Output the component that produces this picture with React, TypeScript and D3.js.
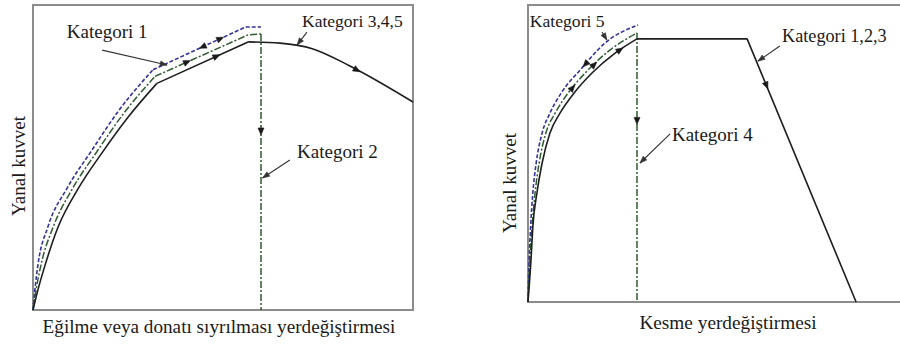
import React from "react";
import * as d3 from "d3";

type Pt = [number, number];

// ---------- Flexure / bar-slip panel (relative units, 0–100) ----------
const flexKat345Rise: Pt[] = [
  [0, 0], [1.3, 6.6], [3.2, 14.8], [6.6, 27.2], [11.8, 39.6], [18.2, 51.6],
  [25, 63.2], [32.6, 74.3],
];
const flexKat345Peak: Pt[] = [[32.6, 74.3], [56.6, 87.9]];
const flexKat345Tail: Pt[] = [[56.6, 87.9], [65, 87.5], [73.7, 85.6], [83.4, 80], [100, 68.2]];

const flexKat2Rise: Pt[] = [
  [0, 0], [0.8, 6.6], [2.1, 14.8], [5.3, 27.2], [10.3, 39.6], [16.8, 51.9],
  [23.7, 64.2], [32.1, 76.6],
];
const flexKat2Top: Pt[] = [[32.1, 76.6], [56.6, 90.2], [60, 90.5]];
const flexKat2Drop: Pt[] = [[60, 90.5], [60, 0]];

const flexKat1Rise: Pt[] = [
  [0, 0], [0.5, 6.6], [1.3, 14.8], [3.9, 27.2], [8.9, 39.8], [15.5, 52.4],
  [22.4, 65.1], [31.6, 78.8],
];
const flexKat1Top: Pt[] = [[31.6, 78.8], [56, 92.8], [60, 92.8]];

// ---------- Shear panel (relative units, 0–100) ----------
const shearKat123Rise: Pt[] = [
  [0, 0], [0.8, 14.1], [1.3, 25.3], [2.4, 36.7], [3.8, 46.8], [5.9, 56.9],
  [8.6, 63.6], [12.4, 70.4], [17.2, 77.1], [23.4, 83.8], [29.3, 88.6],
];
const shearKat123Tail: Pt[] = [[29.3, 88.6], [58.9, 88.6], [88.2, 0]];
const shearKat4Rise: Pt[] = [
  [0, 0], [0.5, 14.1], [1.1, 25.3], [1.9, 36.7], [3, 46.8], [4.8, 56.9],
  [7.3, 63.6], [10.8, 70.4], [15.6, 77.4], [22, 84.8], [29.3, 90.6],
];
const shearKat4Drop: Pt[] = [[29.3, 90.6], [29.3, 0]];
const shearKat5: Pt[] = [
  [0, 0], [0.3, 14.1], [0.7, 25.3], [1.3, 36.7], [2.2, 46.8], [3.8, 56.9],
  [5.9, 63.6], [9.1, 70.7], [14, 78.1], [20.7, 87.2], [29.6, 93.3],
];

// Direction arrows along curves: segment index, position within segment, direction
type ArrowSpec = { pts: Pt[]; seg: number; t: number; dir: 1 | -1 };
const flexArrows: ArrowSpec[] = [
  { pts: flexKat345Peak, seg: 0, t: 0.69, dir: 1 },
  { pts: flexKat345Tail, seg: 3, t: 0.16, dir: 1 },
  { pts: flexKat2Top, seg: 0, t: 0.38, dir: 1 },
  { pts: flexKat2Drop, seg: 0, t: 0.366, dir: 1 },
  { pts: flexKat1Top, seg: 0, t: 0.76, dir: 1 },
  { pts: flexKat1Top, seg: 0, t: 0.5, dir: -1 },
];
const shearArrows: ArrowSpec[] = [
  { pts: shearKat123Rise, seg: 9, t: 0.36, dir: 1 },
  { pts: shearKat123Tail, seg: 1, t: 0.19, dir: 1 },
  { pts: shearKat4Drop, seg: 0, t: 0.34, dir: 1 },
  { pts: shearKat4Rise, seg: 8, t: 0.45, dir: 1 },
  { pts: shearKat4Rise, seg: 7, t: 0.37, dir: 1 },
  { pts: shearKat5, seg: 8, t: 0.12, dir: -1 },
];

// Category callouts: text anchor and leader line (from -> to)
type Callout = { text: string; at: Pt; from: Pt; to: Pt; size: number };
const flexCallouts: Callout[] = [
  { text: "Kategori 1", at: [8.9, 89.2], from: [18.2, 85.2], to: [35.3, 80.3], size: 19 },
  { text: "Kategori 2", at: [69.5, 49.8], from: [67.6, 49.2], to: [60.4, 43.3], size: 19 },
  { text: "Kategori 3,4,5", at: [70.8, 92.8], from: [72.1, 91.1], to: [69.5, 86.9], size: 17.5 },
];
const shearCallouts: Callout[] = [
  { text: "Kategori 5", at: [0.5, 92.6], from: [19.9, 90.9], to: [21.2, 88.2], size: 17.6 },
  { text: "Kategori 1,2,3", at: [68.3, 87.5], from: [67.7, 86.2], to: [61.8, 81.1], size: 18.2 },
  { text: "Kategori 4", at: [38.7, 54.2], from: [38.2, 56.6], to: [30.1, 46.8], size: 19 },
];

const yLabel = "Yanal kuvvet";
const flexXLabel = "Eğilme veya donatı sıyrılması yerdeğiştirmesi";
const shearXLabel = "Kesme yerdeğiştirmesi";

const FONT = "Liberation Serif, DejaVu Serif, serif";
const TEXT = "#1a1a1a";
const BLACK = "#1e1e1e";
const BLUE = "#34339c";
const GREEN = "#2f5b2f";
const FRAME = "#8c8c8c";

type Scale = d3.ScaleLinear<number, number>;
type CurveSpec = { pts: Pt[]; smooth: boolean; color: string; dash?: string; width: number };

function arrowHead(
  key: string,
  x: number,
  y: number,
  angle: number,
  color: string,
  len = 7,
  half = 3
) {
  const c = Math.cos(angle), s = Math.sin(angle);
  const bx = x - c * len, by = y - s * len;
  const p = `M${x},${y} L${bx - s * half},${by + c * half} L${bx + s * half},${by - c * half} Z`;
  return <path key={key} d={p} fill={color} stroke={color} strokeWidth={0.6} />;
}

function Panel({
  xs,
  ys,
  curves,
  arrows,
  callouts,
  xLabel,
  xLabelSize,
  xLabelX,
  xLabelY,
  yLabelX,
  yLabelY,
  closed,
}: {
  xs: Scale;
  ys: Scale;
  curves: CurveSpec[];
  arrows: ArrowSpec[];
  callouts: Callout[];
  xLabel: string;
  xLabelSize: number;
  xLabelX: number;
  xLabelY: number;
  yLabelX: number;
  yLabelY: number;
  closed: boolean;
}) {
  const [x0, x1] = xs.range();
  const [yb, yt] = ys.range();
  const smoothLine = d3
    .line<Pt>()
    .x((d) => xs(d[0]))
    .y((d) => ys(d[1]))
    .curve(d3.curveMonotoneX);
  const straightLine = d3
    .line<Pt>()
    .x((d) => xs(d[0]))
    .y((d) => ys(d[1]));

  const frame = closed
    ? `M${x0},${yt} H${x1} V${yb} H${x0} Z`
    : `M${x1},${yt} H${x0} V${yb} H${x1}`;

  return (
    <g>
      <path d={frame} fill="none" stroke={FRAME} strokeWidth={2} />
      {curves.map((cv, i) => (
        <path
          key={i}
          d={(cv.smooth ? smoothLine : straightLine)(cv.pts) || ""}
          fill="none"
          stroke={cv.color}
          strokeWidth={cv.width}
          strokeDasharray={cv.dash}
          strokeLinejoin="round"
        />
      ))}
      {arrows.map((a, i) => {
        const p = a.pts[a.seg], q = a.pts[a.seg + 1];
        const px = xs(p[0]) + (xs(q[0]) - xs(p[0])) * a.t;
        const py = ys(p[1]) + (ys(q[1]) - ys(p[1])) * a.t;
        let ang = Math.atan2(ys(q[1]) - ys(p[1]), xs(q[0]) - xs(p[0]));
        if (a.dir < 0) ang += Math.PI;
        return arrowHead(`a${i}`, px, py, ang, "#1a1a1a");
      })}
      {callouts.map((c, i) => {
        const fx = xs(c.from[0]), fy = ys(c.from[1]);
        const tx = xs(c.to[0]), ty = ys(c.to[1]);
        const ang = Math.atan2(ty - fy, tx - fx);
        return (
          <g key={`c${i}`}>
            <line x1={fx} y1={fy} x2={tx} y2={ty} stroke="#333" strokeWidth={1.1} />
            {arrowHead(`h${i}`, tx, ty, ang, "#333", 7, 2.6)}
            <text
              x={xs(c.at[0])}
              y={ys(c.at[1])}
              style={{ fontFamily: FONT }}
              fontSize={c.size}
              fill={TEXT}
            >
              {c.text}
            </text>
          </g>
        );
      })}
      <text
        x={xLabelX}
        y={xLabelY}
        textAnchor="middle"
        style={{ fontFamily: FONT }}
        fontSize={xLabelSize}
        fill={TEXT}
      >
        {xLabel}
      </text>
      <text
        transform={`translate(${yLabelX},${yLabelY}) rotate(-90)`}
        textAnchor="middle"
        style={{ fontFamily: FONT }}
        fontSize={19}
        fill={TEXT}
      >
        {yLabel}
      </text>
    </g>
  );
}

export default function App() {
  const flexX = d3.scaleLinear().domain([0, 100]).range([33, 413]);
  const flexY = d3.scaleLinear().domain([0, 100]).range([310, 5]);
  const shearX = d3.scaleLinear().domain([0, 100]).range([528, 900]);
  const shearY = d3.scaleLinear().domain([0, 100]).range([302, 5]);

  const blue = { color: BLUE, dash: "4 2", width: 1.6 };
  const green = { color: GREEN, dash: "7 2 2 2", width: 1.5 };
  const black = { color: BLACK, width: 1.6 };

  return (
    <svg
      width={900}
      height={344}
      viewBox="0 0 900 344"
      style={{ position: "absolute", left: 0, top: 0, background: "#fff" }}
    >
      <rect width={900} height={344} fill="#fff" />
      <Panel
        xs={flexX}
        ys={flexY}
        closed={true}
        curves={[
          { pts: flexKat1Rise, smooth: true, ...blue },
          { pts: flexKat1Top, smooth: false, ...blue },
          { pts: flexKat2Rise, smooth: true, ...green },
          { pts: flexKat2Top, smooth: false, ...green },
          { pts: flexKat2Drop, smooth: false, ...green },
          { pts: flexKat345Rise, smooth: true, ...black },
          { pts: flexKat345Peak, smooth: false, ...black },
          { pts: flexKat345Tail, smooth: true, ...black },
        ]}
        arrows={flexArrows}
        callouts={flexCallouts}
        xLabel={flexXLabel}
        xLabelSize={19.2}
        xLabelX={219}
        xLabelY={333}
        yLabelX={25}
        yLabelY={166}
      />
      <Panel
        xs={shearX}
        ys={shearY}
        closed={false}
        curves={[
          { pts: shearKat5, smooth: true, ...blue },
          { pts: shearKat4Rise, smooth: true, ...green },
          { pts: shearKat4Drop, smooth: false, ...green },
          { pts: shearKat123Rise, smooth: true, ...black },
          { pts: shearKat123Tail, smooth: false, ...black },
        ]}
        arrows={shearArrows}
        callouts={shearCallouts}
        xLabel={shearXLabel}
        xLabelSize={19.3}
        xLabelX={728}
        xLabelY={329}
        yLabelX={516}
        yLabelY={183}
      />
    </svg>
  );
}
